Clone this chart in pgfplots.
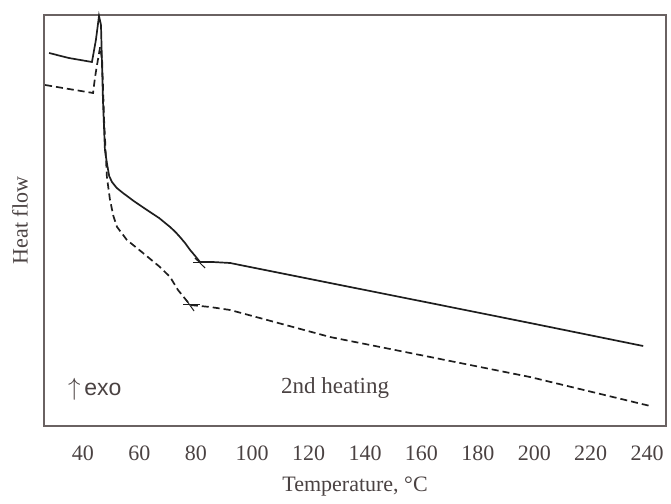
\documentclass[border=0pt]{standalone}
\usepackage{pgfplots}
\pgfplotsset{compat=1.18}
\usepackage{fontspec}
\setmainfont{Liberation Serif}
\newfontfamily\arialfont{Liberation Sans}
\definecolor{txt}{HTML}{4A4242}
\definecolor{frame}{HTML}{6A6262}
\definecolor{crv}{HTML}{1E1E1E}
\begin{document}
\begin{tikzpicture}
\useasboundingbox (-44pt,-77pt) rectangle (627pt,426pt);
\begin{axis}[
  name=ax,
  at={(0pt,0pt)}, anchor=south west,
  scale only axis,
  width=622pt, height=411pt,
  xmin=26.2, xmax=246.7,
  ymin=0, ymax=411,
  xtick={40,60,...,240},
  ytick=\empty,
  major tick length=0pt,
  axis line style={draw=frame, line width=1.2pt},
  /pgf/number format/assume math mode=true,
  xticklabel style={font=\fontsize{22}{26}\selectfont, text=txt, yshift=-16pt},
  xlabel={Temperature, °C},
  ylabel={Heat flow},
  xlabel style={font=\fontsize{22}{26}\selectfont, text=txt, at={(axis description cs:0.5,-0.148)}, anchor=center},
  ylabel style={font=\fontsize{22}{26}\selectfont, text=txt, at={(axis description cs:-0.0386,0.5)}, anchor=center},
  clip=false,
]
% solid curve
\addplot[crv, line width=1.7pt, no marks] coordinates {
(28.0,373) (35.0,368) (43.2,364) (44.6,386) (45.7,410) (46.4,401) (47.1,326) (47.8,276) (48.5,263)
(49.3,250) (50.3,244) (52.0,238) (54.2,233) (58.0,225) (62.7,216) (67.0,208) (70.9,199) (72.8,194) (74.4,189) (76.2,183) (78.0,176) (79.8,170) (81.5,164)
(86.0,164) (92.2,163) (99.2,159) (127.6,143) (163.1,123) (198.5,103) (238.6,80)
};
% dashed curve
\addplot[crv, line width=1.7pt, no marks, dash pattern=on 7pt off 4pt] coordinates {
(26.6,341) (35.0,337) (43.6,333) (44.3,349) (45.3,366) (46.1,379) (46.8,366) (47.5,306) (48.5,249)
(49.6,226) (50.8,210) (52.1,199) (55.6,186) (61.3,173) (67.3,159) (70.9,149) (73.7,136) (76.0,128) (78.0,121)
(85.1,119) (92.2,116) (127.6,89) (163.1,69) (198.5,49) (241.1,20)
};
% construction marks (onset crosses)
\addplot[crv, line width=1.0pt, no marks] coordinates {(79.0,163.5) (86.8,163.5)};
\addplot[crv, line width=1.0pt, no marks] coordinates {(79.7,168) (83.3,158)};
\addplot[crv, line width=1.0pt, no marks] coordinates {(75.5,121) (81.5,121)};
\addplot[crv, line width=1.0pt, no marks] coordinates {(76.6,126) (79.4,115)};
\node[anchor=west, text=txt, font=\fontsize{23}{26}\selectfont, inner sep=0pt] at (axis cs:34.7,37) {$\uparrow$\,\arialfont exo};
\node[anchor=center, text=txt, font=\fontsize{23}{26}\selectfont] at (axis cs:129.4,38) {2nd heating};
\end{axis}
\end{tikzpicture}
\end{document}
